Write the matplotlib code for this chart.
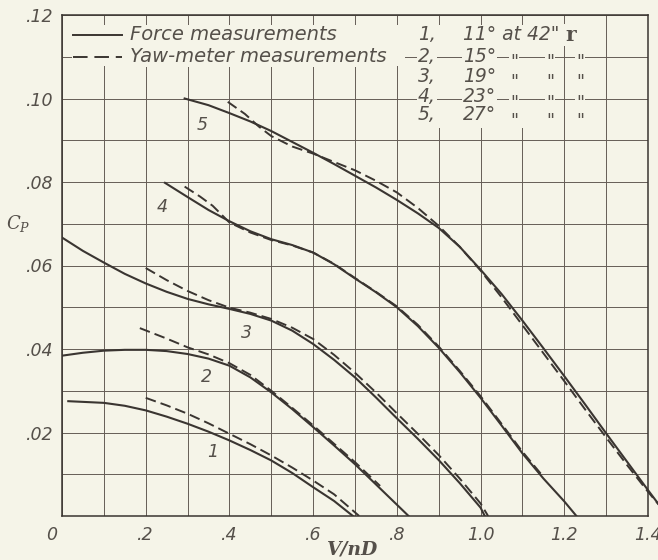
import numpy as np
import matplotlib
matplotlib.use("Agg")
import matplotlib.pyplot as plt
from matplotlib.patches import Rectangle
from matplotlib.transforms import ScaledTranslation

# Power coefficient against V/nD, five blade angles (11, 15, 19, 23, 27 deg at 42 in. radius)
x1_force = [0.015, 0.1, 0.15, 0.2, 0.25, 0.3, 0.35, 0.4, 0.45, 0.5, 0.55, 0.6, 0.65, 0.695]
c1_force = [0.0275, 0.0271, 0.0264, 0.0253, 0.0238, 0.0221, 0.0202, 0.0181, 0.0158, 0.0133,
            0.0103, 0.0069, 0.0036, 0.0]
x1_yaw = [0.2, 0.25, 0.3, 0.35, 0.4, 0.45, 0.5, 0.55, 0.6, 0.65, 0.71]
c1_yaw = [0.0283, 0.0265, 0.0245, 0.0222, 0.0197, 0.0172, 0.0145, 0.0116, 0.0085, 0.0052, 0.0]

x2_force = [0.0, 0.05, 0.1, 0.15, 0.2, 0.25, 0.3, 0.35, 0.4, 0.45, 0.5, 0.55, 0.6, 0.65,
            0.7, 0.76, 0.828]
c2_force = [0.0384, 0.0391, 0.0396, 0.0398, 0.0398, 0.0395, 0.0388, 0.0377, 0.0360, 0.0332,
            0.0296, 0.0256, 0.0213, 0.0169, 0.0124, 0.0066, 0.0]
x2_yaw = [0.186, 0.25, 0.3, 0.35, 0.4, 0.45, 0.5, 0.55, 0.6, 0.65, 0.7, 0.76]
c2_yaw = [0.0450, 0.0425, 0.0404, 0.0387, 0.0366, 0.0338, 0.0300, 0.0259, 0.0217, 0.0173,
          0.0129, 0.0072]

x3_force = [0.0, 0.05, 0.1, 0.15, 0.2, 0.25, 0.3, 0.35, 0.4, 0.45, 0.5, 0.55, 0.6, 0.65,
            0.7, 0.75, 0.8, 0.85, 0.9, 0.95, 1.0, 1.01]
c3_force = [0.0667, 0.0635, 0.0607, 0.0580, 0.0557, 0.0537, 0.0520, 0.0507, 0.0496, 0.0484,
            0.0468, 0.0444, 0.0412, 0.0374, 0.0332, 0.0284, 0.0234, 0.0185, 0.0134, 0.0079,
            0.0020, 0.0]
x3_yaw = [0.2, 0.25, 0.3, 0.35, 0.4, 0.45, 0.5, 0.55, 0.6, 0.65, 0.7, 0.75, 0.8, 0.85,
          0.9, 0.95, 1.0, 1.018]
c3_yaw = [0.0594, 0.0565, 0.0539, 0.0517, 0.0499, 0.0487, 0.0472, 0.0451, 0.0424, 0.0386,
          0.0343, 0.0296, 0.0246, 0.0197, 0.0146, 0.0090, 0.0030, 0.0]

x4_force = [0.246, 0.3, 0.35, 0.4, 0.45, 0.5, 0.55, 0.6, 0.65, 0.7, 0.75, 0.8, 0.85, 0.9,
            0.95, 1.0, 1.05, 1.1, 1.15, 1.2, 1.229]
c4_force = [0.0798, 0.0764, 0.0733, 0.0706, 0.0682, 0.0663, 0.0649, 0.0631, 0.0603, 0.0569,
            0.0536, 0.0500, 0.0455, 0.0403, 0.0345, 0.0283, 0.0217, 0.0150, 0.0090, 0.0035, 0.0]
x4_yaw = [0.293, 0.33, 0.36, 0.4, 0.45, 0.5, 0.55, 0.6, 0.65, 0.7, 0.75, 0.8, 0.85, 0.9,
          0.95, 1.0, 1.05, 1.1, 1.15]
c4_yaw = [0.0789, 0.0765, 0.0743, 0.0703, 0.0679, 0.0661, 0.0648, 0.0631, 0.0604, 0.0570,
          0.0537, 0.0502, 0.0458, 0.0406, 0.0348, 0.0287, 0.0221, 0.0154, 0.0094]

x5_force = [0.293, 0.35, 0.4, 0.45, 0.5, 0.55, 0.6, 0.65, 0.7, 0.75, 0.8, 0.85, 0.9, 0.95,
            1.0, 1.05, 1.1, 1.15, 1.2, 1.25, 1.3, 1.35, 1.4, 1.43]
c5_force = [0.1000, 0.0984, 0.0965, 0.0945, 0.0922, 0.0896, 0.0870, 0.0843, 0.0815, 0.0787,
            0.0757, 0.0725, 0.0690, 0.0645, 0.0590, 0.0532, 0.0468, 0.0402, 0.0335, 0.0267,
            0.0198, 0.0130, 0.0062, 0.0022]
x5_yaw = [0.396, 0.437, 0.47, 0.5, 0.55, 0.6, 0.65, 0.7, 0.75, 0.8, 0.85, 0.9, 0.95, 1.0,
          1.05, 1.1, 1.15, 1.2, 1.25, 1.3, 1.35, 1.4, 1.43]
c5_yaw = [0.0992, 0.0963, 0.0933, 0.0910, 0.0885, 0.0868, 0.0848, 0.0828, 0.0803, 0.0775,
          0.0738, 0.0695, 0.0645, 0.0588, 0.0524, 0.0457, 0.0390, 0.0323, 0.0255, 0.0188,
          0.0122, 0.0058, 0.0022]

curve_labels = ["1", "2", "3", "4", "5"]
label_x = [0.361, 0.345, 0.44, 0.239, 0.334]
label_y = [0.0153, 0.0333, 0.0438, 0.0740, 0.0936]

angles = ["11°", "15°", "19°", "23°", "27°"]
x_ticks = [0, 0.2, 0.4, 0.6, 0.8, 1.0, 1.2, 1.4]
x_ticklabels = ["0", ".2", ".4", ".6", ".8", "1.0", "1.2", "1.4"]
y_ticks = [0.02, 0.04, 0.06, 0.08, 0.10, 0.12]
y_ticklabels = [".02", ".04", ".06", ".08", ".10", ".12"]

BG = "#f5f4e8"
INK = "#3a3531"
GRID = "#655d56"
TXT = "#55504a"
W, H = 658, 560

fig = plt.figure(figsize=(W / 100, H / 100), dpi=100, facecolor=BG)
ax = fig.add_axes([62 / W, 44 / H, 586 / W, 501 / H])
ax.set_facecolor(BG)
ax.set_xlim(0, 1.4)
ax.set_ylim(0, 0.12)

font = dict(family="DejaVu Sans", style="italic", color=TXT)

ax.set_xticks(x_ticks)
ax.set_xticklabels(x_ticklabels, fontsize=12.5, **font)
ax.set_yticks(y_ticks)
ax.set_yticklabels(y_ticklabels, fontsize=12.5, **font)
ax.set_xticks(np.arange(0.1, 1.4, 0.2), minor=True)
ax.set_yticks(np.arange(0.01, 0.12, 0.02), minor=True)
ax.tick_params(which="both", length=0)
ax.tick_params(axis="x", pad=7)
ax.tick_params(axis="y", pad=6)
ax.grid(which="both", color=GRID, lw=0.7)
ax.set_axisbelow(True)
for s in ax.spines.values():
    s.set_color(INK)
    s.set_linewidth(1.1)

# nudge the "0" to the left of the origin
zero = ax.get_xticklabels()[0]
zero.set_transform(zero.get_transform() + ScaledTranslation(-0.1, 0, fig.dpi_scale_trans))

# curves
dash = (0, (5.5, 2.6))
for xs, cs in [(x1_force, c1_force), (x2_force, c2_force), (x3_force, c3_force),
               (x4_force, c4_force)]:
    ax.plot(xs, cs, color=INK, lw=1.5, zorder=2)
ax.plot(x5_force, c5_force, color=INK, lw=1.5, zorder=2, clip_on=False)
for xs, cs in [(x1_yaw, c1_yaw), (x2_yaw, c2_yaw), (x3_yaw, c3_yaw), (x4_yaw, c4_yaw)]:
    ax.plot(xs, cs, color=INK, lw=1.4, ls=dash, zorder=2)
ax.plot(x5_yaw, c5_yaw, color=INK, lw=1.4, ls=dash, zorder=2, clip_on=False)

for t, lx, ly in zip(curve_labels, label_x, label_y):
    ax.text(lx, ly, t, fontsize=12.5, ha="center", va="center", **font)


# legend block, placed in pixel units of the axes area
def ax_pt(px, py):
    return (px - 62) / 586, (516 - py) / 501


T = ax.transAxes
x0, y0 = ax_pt(72, 66)
x1, y1 = ax_pt(545, 25)
ax.add_patch(Rectangle((x0, y0), x1 - x0, y1 - y0, transform=T, fc=BG, ec="none", zorder=1))
x0, y0 = ax_pt(405, 128)
x1, y1 = ax_pt(545, 66)
ax.add_patch(Rectangle((x0, y0), x1 - x0, y1 - y0, transform=T, fc=BG, ec="none", zorder=1))
# grid lines run on through the table as leaders
for gy in (0.11, 0.10):
    ax.plot([0.82, 1.16], [gy, gy], color=GRID, lw=0.7, zorder=1.5)

box = dict(boxstyle="square,pad=0.05", fc=BG, ec="none")
row_y = [35, 56, 76, 97, 115]

lx0, ly = ax_pt(73, row_y[0])
lx1, _ = ax_pt(122, row_y[0])
ax.plot([lx0, lx1], [ly, ly], transform=T, color=INK, lw=1.4, zorder=2)
lx0, ly2 = ax_pt(73, 57)
ax.plot([lx0, lx1], [ly2, ly2], transform=T, color=INK, lw=1.4, ls=(0, (7.5, 3.5)), zorder=2)
tx, _ = ax_pt(130, 0)
ax.text(tx, ly, "Force measurements", transform=T, fontsize=14, va="center",
        bbox=box, zorder=3, **font)
ax.text(tx, ly2, "Yaw-meter measurements", transform=T, fontsize=14, va="center",
        bbox=box, zorder=3, **font)

for i, ang in enumerate(angles):
    _, ry = ax_pt(0, row_y[i])
    _, qy = ax_pt(0, row_y[i] + 11)
    nx, _ = ax_pt(436, 0)
    ax.text(nx, ry, f"{i + 1},", transform=T, fontsize=13.5, ha="right", va="center",
            bbox=box, zorder=3, **font)
    ax_, _ = ax_pt(463, 0)
    if i == 0:
        ax.text(ax_, ry, ang + " at 42\"", transform=T, fontsize=13.5, va="center",
                bbox=box, zorder=3, **font)
        rx, _ = ax_pt(565, 0)
        ax.text(rx, ry, "r", transform=T, fontsize=14.5, va="center", family="DejaVu Serif",
                weight="bold", color=TXT, bbox=box, zorder=3)
    else:
        ax.text(ax_, ry, ang, transform=T, fontsize=13.5, va="center", bbox=box, zorder=3,
                **font)
        for qx in (514, 550, 580):
            qxa, _ = ax_pt(qx, 0)
            ax.text(qxa, qy, "\"", transform=T, fontsize=12.5, ha="center", va="baseline",
                    bbox=box, zorder=3, **font)

# axis titles
fig.text(18 / W, 1 - 224 / H, r"$C_P$", fontsize=13, ha="center", va="center",
         color=TXT, math_fontfamily="dejavuserif")
fig.text(353 / W, 1 - 549 / H, "V/nD", fontsize=13.5, ha="center", va="center",
         family="DejaVu Serif", style="italic", weight="bold", color=TXT)

fig.savefig("out.png", dpi=100, facecolor=BG)
